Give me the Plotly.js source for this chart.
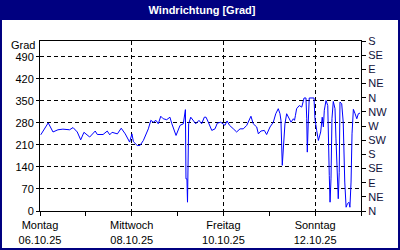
<!DOCTYPE html>
<html>
<head>
<meta charset="utf-8">
<script src="https://cdn.plot.ly/plotly-3.0.1.min.js"></script>
<style>
html,body{margin:0;padding:0;background:#000080;}
#chart{width:400px;height:250px;}
</style>
</head>
<body>
<div id="chart"></div>
<script>
// hours since Montag 06.10.25 00:00
const hours = [0.4,4.3,6.8,9.4,12.0,15.5,17.3,19.5,21.3,23.0,26.0,27.7,28.9,30.0,33.0,35.2,36.5,37.7,40.5,42.5,44.6,46.9,48.1,48.9,50.9,52.3,54.1,56.7,58.0,59.3,60.7,61.9,63.2,64.5,66.3,68.0,68.9,71.2,73.3,75.0,76.1,76.4,76.9,77.2,77.8,78.9,80.2,81.5,83.2,84.6,86.0,86.9,88.1,89.9,91.6,92.8,94.6,95.9,96.8,97.9,99.2,101.2,102.9,104.7,106.4,108.2,110.4,111.6,113.4,114.3,115.6,117.4,118.6,120.4,122.1,123.4,124.7,125.6,126.1,126.8,127.4,128.2,129.1,130.3,131.4,132.6,133.2,133.7,134.3,135.7,137.0,138.2,139.2,139.6,139.9,140.4,140.9,143.4,143.9,144.8,145.7,146.9,147.7,148.3,148.8,149.7,150.6,151.4,151.8,152.3,152.8,153.5,154.4,154.9,155.6,156.1,156.6,157.0,157.9,158.7,159.5,160.2,160.9,161.7,162.2,162.8,163.3,164.0,164.9,165.8,166.6,167.5];
const direction = [242,280,251,258,260,258,265,251,226,250,235,247,254,243,243,254,242,250,245,263,245,219,245,220,208,208,224,261,288,282,288,277,301,293,290,298,279,240,272,277,322,102,102,28,277,298,288,277,288,277,298,298,282,256,261,279,282,277,272,286,272,261,251,261,261,272,301,277,267,245,254,256,243,267,282,309,325,309,288,145,214,277,309,293,282,293,288,304,325,335,330,359,359,293,187,282,359,359,293,256,224,251,298,267,320,351,335,113,28,102,293,348,325,229,81,39,123,346,341,282,92,12,23,28,12,92,245,323,309,293,309,311];

const xTickVals = [0,48,96,144];
const xTickText = ['Montag<br>06.10.25','Mittwoch<br>08.10.25','Freitag<br>10.10.25','Sonntag<br>12.10.25'];
const yTickVals = [0,70,140,210,280,350,420,490];
const compassVals = [0,45,90,135,180,225,270,315,360,405,450,495,540];
const compassText = ['N','NE','E','SE','S','SW','W','NW','N','NE','E','SE','S'];

const font = {family:'Liberation Sans, Arial, sans-serif', size:11, color:'#000'};
const rightFont = {family:'Liberation Sans, Arial, sans-serif', size:11, color:'#10103a'};

const data = [{
  x: hours, y: direction, type:'scatter', mode:'lines',
  line:{color:'#0000ff', width:1}, hoverinfo:'skip'
},{
  x:[0], y:[0], yaxis:'y2', type:'scatter', mode:'markers',
  marker:{opacity:0}, hoverinfo:'skip', showlegend:false
}];

const layout = {
  width:400, height:250,
  margin:{l:40, r:39, t:41, b:39, pad:0},
  paper_bgcolor:'#000080', plot_bgcolor:'#ffffff',
  showlegend:false,
  font: font,
  title:{text:'<b>Windrichtung [Grad]</b>', font:{family:'Liberation Sans, Arial, sans-serif', size:11, color:'#ffffff'},
         x:0.505, xref:'container', xanchor:'center', y:0.96, yref:'container', yanchor:'middle'},
  xaxis:{
    range:[0,168], tickvals:xTickVals, ticktext:xTickText,
    showgrid:true, gridcolor:'#000', griddash:'4px,3px', gridwidth:1,
    showline:true, linecolor:'#000', linewidth:1, mirror:true,
    ticks:'outside', ticklen:4, tickcolor:'#000',
    minor:{tick0:0, dtick:24, ticks:'outside', ticklen:4, tickcolor:'#000', showgrid:false},
    zeroline:false, tickfont:font, fixedrange:true
  },
  yaxis:{
    range:[0,540], tickvals:yTickVals,
    showgrid:true, gridcolor:'#000', griddash:'4px,3px', gridwidth:1,
    showline:true, linecolor:'#000', linewidth:1,
    ticks:'outside', ticklen:3, tickcolor:'#000',
    zeroline:false, tickfont:font, fixedrange:true
  },
  yaxis2:{
    range:[0,540], overlaying:'y', side:'right',
    tickvals:compassVals, ticktext:compassText,
    showgrid:false, showline:true, linecolor:'#000', linewidth:1,
    ticks:'outside', ticklen:4, tickcolor:'#000',
    zeroline:false, tickfont:rightFont, fixedrange:true
  },
  shapes:[{
    type:'rect', xref:'paper', yref:'paper', layer:'below',
    x0:-0.1184, x1:1.1153, y0:-0.2176, y1:1.1235,
    fillcolor:'#ffffff', line:{width:0}
  }],
  annotations:[{
    text:'Grad', xref:'paper', yref:'paper', x:0, y:0.976,
    xanchor:'right', yanchor:'middle', xshift:-3, showarrow:false, font:font
  }]
};

Plotly.newPlot('chart', data, layout, {staticPlot:true, displayModeBar:false});
</script>
</body>
</html>
